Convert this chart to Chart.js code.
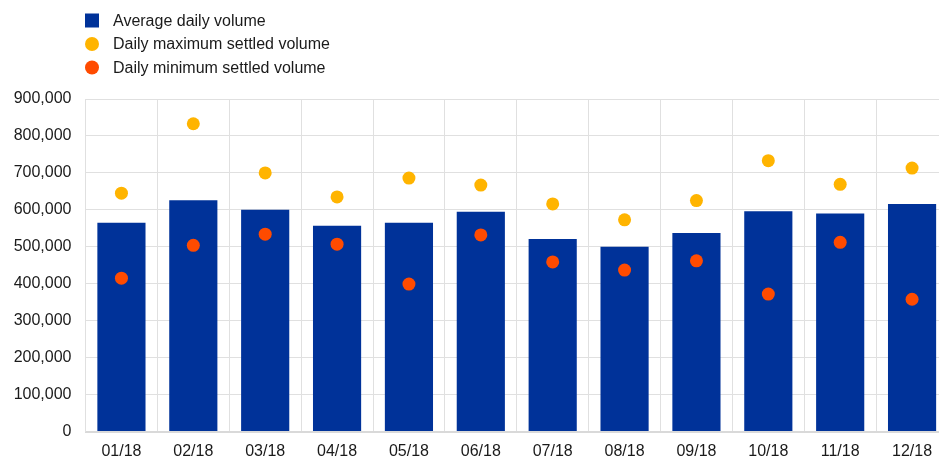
<!DOCTYPE html>
<html>
<head>
<meta charset="utf-8">
<script src="https://cdn.jsdelivr.net/npm/chart.js@4/dist/chart.umd.min.js"></script>
<style>
  html, body { margin: 0; padding: 0; background: #ffffff; overflow: hidden; }
  #c { display: block; }
</style>
</head>
<body>
<canvas id="c" width="948" height="457"></canvas>
<script>
// Monthly settlement volumes, 2018
const months = ['01/18','02/18','03/18','04/18','05/18','06/18','07/18','08/18','09/18','10/18','11/18','12/18'];
const averageDaily = [565000, 626000, 600000, 557000, 565000, 595000, 521000, 500000, 537000, 596000, 590000, 616000];
const dailyMax     = [645000, 833000, 700000, 635000, 686000, 667000, 616000, 573000, 625000, 733000, 669000, 713000];
const dailyMin     = [415000, 504000, 534000, 507000, 399000, 532000, 459000, 437000, 462000, 372000, 512000, 358000];
const yTicks = [0, 100000, 200000, 300000, 400000, 500000, 600000, 700000, 800000, 900000];

const FONT = 'Arial, "Liberation Sans", sans-serif';
const BLUE = '#003299', YELLOW = '#FFB400', ORANGE = '#FF4B00';

// Stacked legend in the top-left corner, one entry per row
const stackedLegend = {
  id: 'stackedLegend',
  afterDraw(chart) {
    const ctx = chart.ctx;
    const x0 = 85, rowY = [20.5, 44, 67.5];
    ctx.save();
    ctx.font = '16px ' + FONT;
    ctx.textBaseline = 'middle';
    chart.data.datasets.forEach((ds, i) => {
      const y = rowY[i];
      ctx.fillStyle = ds.legendColor;
      if (ds.type === 'bar') {
        ctx.fillRect(x0, y - 7, 14, 14);
      } else {
        ctx.beginPath();
        ctx.arc(x0 + 7, y, 7, 0, Math.PI * 2);
        ctx.fill();
      }
      ctx.fillStyle = '#1a1a1a';
      ctx.fillText(ds.label, 113, y + 1);
    });
    ctx.restore();
  }
};

new Chart(document.getElementById('c'), {
  data: {
    labels: months,
    datasets: [
      {
        type: 'bar', label: 'Average daily volume', data: averageDaily,
        backgroundColor: BLUE, legendColor: BLUE,
        barPercentage: 0.67, categoryPercentage: 1.0, order: 2
      },
      {
        type: 'line', label: 'Daily maximum settled volume', data: dailyMax,
        showLine: false, pointRadius: 6.5, pointHoverRadius: 6.5, pointBorderWidth: 0,
        pointBackgroundColor: YELLOW, borderColor: YELLOW, legendColor: YELLOW, order: 1
      },
      {
        type: 'line', label: 'Daily minimum settled volume', data: dailyMin,
        showLine: false, pointRadius: 6.5, pointHoverRadius: 6.5, pointBorderWidth: 0,
        pointBackgroundColor: ORANGE, borderColor: ORANGE, legendColor: ORANGE, order: 0
      }
    ]
  },
  options: {
    responsive: false,
    maintainAspectRatio: false,
    devicePixelRatio: 1,
    animation: false,
    layout: { autoPadding: false, padding: { top: 99, left: 0, right: 0, bottom: 0 } },
    plugins: { legend: { display: false }, tooltip: { enabled: false } },
    scales: {
      x: {
        offset: true,
        grid: { color: '#e0e0e0', lineWidth: 1, offset: true, drawTicks: false },
        border: { color: '#d9d9d9', width: 2 },
        ticks: { color: '#1a1a1a', font: { family: FONT, size: 16 }, padding: 10, maxRotation: 0 },
        afterFit(s) { s.height = 25.5; s.paddingLeft = 0; s.paddingRight = 0; }
      },
      y: {
        min: 0, max: 900000,
        afterBuildTicks(s) { s.ticks = yTicks.map(v => ({ value: v })); },
        grid: { color: '#e0e0e0', lineWidth: 1, drawTicks: false },
        border: { color: '#e0e0e0', width: 1 },
        ticks: {
          color: '#1a1a1a', font: { family: FONT, size: 16 }, padding: 14,
          callback: v => v.toLocaleString('en-US')
        },
        afterFit(s) { s.width = 85.5; }
      }
    }
  },
  plugins: [stackedLegend]
});
</script>
</body>
</html>
